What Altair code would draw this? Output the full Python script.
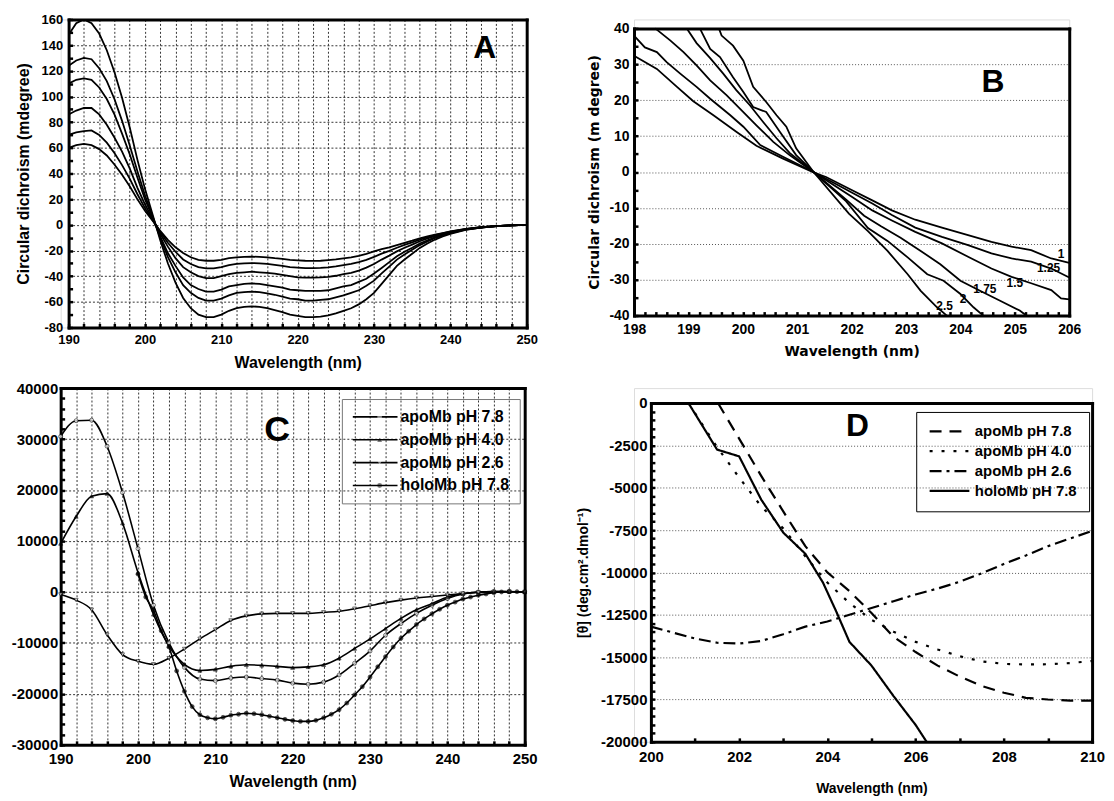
import altair as alt
import pandas as pd

SANS = "Liberation Sans"
WIDE = "DejaVu Sans"

# ---------------- Panel A data ----------------
a_wl = list(range(190, 241)) + [242, 244, 246, 248, 250]
a_cd_1 = [148, 157, 160, 157, 149, 136, 119, 99, 76, 51, 28, 8, -12, -30, -45, -57, -65, -70, -72, -72,
          -70, -67, -65, -64, -63.5, -64, -65, -66.5, -68, -70, -71, -72, -72, -71.5, -70.5, -69, -67, -65,
          -62, -58, -53, -46, -39, -32, -27, -22.5, -18, -14.5, -11.5, -9, -7, -4, -2.2, -1.1, -0.4, 0]
a_cd_2 = [124, 128, 130, 129, 122, 112, 98, 81, 62, 42, 23, 6.5, -10, -25, -37, -47, -53, -57, -59, -59,
          -57.5, -55, -53, -52.5, -52, -52.5, -53.5, -54.5, -56, -57.5, -58, -59, -59, -58.5, -58, -56.5,
          -55, -53, -51, -47.5, -43.5, -37.9, -32.6, -27.1, -23.1, -19.5, -15.8, -12.9, -10.3, -8.2, -6.5,
          -3.8, -2.1, -1.1, -0.4, 0]
a_cd_3 = [110, 113, 114, 113, 107, 98, 86, 71, 55, 37, 20, 6, -9, -22, -32, -41, -47, -50, -52, -52,
          -50.5, -48, -47, -46, -45.7, -46, -47, -48, -49, -50.5, -51, -51.5, -51.5, -51.5, -51, -49.5,
          -48, -47, -44.5, -42, -38, -33.6, -29.1, -24.5, -21, -17.9, -14.6, -12, -9.7, -7.8, -6.2,
          -3.6, -2.1, -1.05, -0.4, 0]
a_cd_4 = [86, 89, 91, 91, 86, 78, 68, 57, 44, 29, 16, 4.5, -7, -17, -26, -33, -37, -40, -41.5, -41.5,
          -40, -38.5, -37.5, -37, -36.5, -37, -37.5, -38, -39, -40, -41, -41.2, -41.2, -41, -40.5, -39.7,
          -38.5, -37.4, -35.7, -33.4, -30.5, -27.1, -24, -20.7, -17.9, -15.4, -12.8, -10.6, -8.8, -7.2,
          -5.7, -3.4, -2, -1, -0.4, 0]
a_cd_5 = [70, 72, 73, 73.5, 70, 64, 56, 46.5, 36, 24, 13, 3.8, -5.6, -14, -21, -27, -30.5, -33, -34, -34,
          -33, -31.5, -30.5, -30, -29.8, -30, -30.5, -31.3, -32, -33, -33.4, -33.8, -33.8, -33.6, -33.1,
          -32.4, -31.5, -30.5, -29, -27.3, -25, -22.5, -20.3, -17.9, -15.7, -13.7, -11.6, -9.7, -8.1,
          -6.7, -5.4, -3.3, -1.9, -1, -0.4, 0]
a_cd_6 = [60, 62, 63, 62, 59, 54, 47, 39, 30, 20, 11, 3.1, -4.7, -11.7, -17.5, -22, -25.3, -27.3, -28, -28,
          -27.3, -26, -25.3, -25, -24.8, -25, -25.3, -26, -26.5, -27.3, -27.7, -28, -28.1, -28, -27.5,
          -27, -26.1, -25.3, -24.2, -22.6, -20.7, -19, -17.5, -15.8, -14, -12.4, -10.6, -9, -7.6, -6.4,
          -5.2, -3.2, -1.9, -1, -0.4, 0]
a_curves = [a_cd_1, a_cd_2, a_cd_3, a_cd_4, a_cd_5, a_cd_6]
a_letter = ["A"]
a_letter_wl = [244.5]
a_letter_cd = [138]

# ---------------- Panel B data ----------------
b_names = ["1", "1.25", "1.5", "1.75", "2", "2.5"]
b_wl_1 = [198.0, 198.42, 198.79, 199.09, 199.46, 199.88, 200.25, 200.73, 201.28, 201.53, 202.01, 202.38,
          202.74, 203.17, 203.66, 204.14, 204.57, 204.94, 205.3, 205.67, 206.0]
b_cd_1 = [32.4, 28.7, 23.7, 19.7, 15.8, 11.2, 7.3, 3.8, 0.0, -1.4, -5.1, -7.9, -10.7, -13.3, -15.5, -17.6,
          -19.5, -20.8, -21.8, -24.1, -25.3]
b_wl_125 = [198.0, 198.2, 198.42, 198.6, 198.85, 199.15, 199.4, 199.77, 200.01, 200.32, 200.73, 201.3,
            202.01, 202.38, 202.74, 203.17, 203.66, 204.14, 204.57, 204.94, 205.3, 205.67, 206.0]
b_cd_125 = [38, 34.7, 33.4, 30.6, 27.4, 23.7, 20.4, 15.8, 12.6, 7.5, 4.3, 0, -5.8, -8.8, -12, -15.5, -18.1,
            -20.4, -22.7, -24.1, -25, -26.9, -29.4]
b_wl_15 = [198.39, 198.67, 198.91, 199.15, 199.4, 199.7, 200.01, 200.25, 200.56, 200.86, 201.3, 202.01,
           202.38, 202.74, 203.17, 203.66, 204.14, 204.57, 204.94, 205.3, 205.67, 205.85, 206.0]
b_cd_15 = [40, 36.6, 33.4, 29.7, 25.5, 21.4, 16.7, 13, 8.4, 4.7, 0, -7, -10.7, -13.5, -16.7, -19.9, -23.6,
           -26.9, -29.2, -31, -32.9, -35.2, -35.5]
b_wl_175 = [198.97, 199.15, 199.4, 199.64, 199.88, 200.13, 200.37, 200.62, 200.86, 201.3, 201.9, 202.23,
            202.54, 202.9, 203.27, 203.63, 204.0, 204.36, 204.72, 205.09, 205.21]
b_cd_175 = [40, 35.9, 31.7, 27.4, 22.8, 18.6, 14, 9.4, 5.3, 0, -7.7, -12.2, -15.1, -18.3, -22, -25.7, -30.3,
            -33.1, -35.8, -38.6, -40]
b_wl_2 = [199.21, 199.4, 199.58, 199.82, 200.01, 200.19, 200.43, 200.68, 200.98, 201.3, 201.9, 202.3,
          202.66, 203.03, 203.39, 203.69, 204.0, 204.24, 204.42]
b_cd_2 = [40, 34.3, 32, 26.4, 22.3, 18.1, 16.7, 11.2, 4.7, 0, -8.2, -15.6, -19.2, -23.8, -28.5, -30.3, -34,
          -37.7, -40]
b_wl_25 = [199.56, 199.61, 199.82, 200.01, 200.19, 200.43, 200.62, 200.8, 200.98, 201.3, 201.95, 202.3,
           202.66, 203.03, 203.27, 203.57, 203.75]
b_cd_25 = [40, 38, 35.2, 31, 23.7, 19.5, 15.8, 12.6, 6.6, 0, -11.6, -16.5, -22, -28.5, -33.1, -37.7, -40]
b_series = [(b_wl_1, b_cd_1), (b_wl_125, b_cd_125), (b_wl_15, b_cd_15), (b_wl_175, b_cd_175),
            (b_wl_2, b_cd_2), (b_wl_25, b_cd_25)]
b_label_wl = [205.85, 205.62, 205.0, 204.45, 204.05, 203.71]
b_label_cd = [-22.8, -26.7, -30.9, -32.7, -35.5, -37.4]
b_letter = ["B"]
b_letter_wl = [204.6]
b_letter_cd = [25]

# ---------------- Panel C data ----------------
c_names = ["apoMb pH 7.8", "apoMb pH 4.0", "apoMb pH 2.6", "holoMb pH 7.8"]
c_marker_keys = ["marker 7.8", "marker 4.0", "marker 2.6", "marker holo"]
c_wl = list(range(190, 251, 2))
c_apo78 = [30500, 33600, 33700, 28600, 19500, 8500, -2600, -10000, -14800, -17100, -17400, -16900, -16700,
           -17000, -17300, -17900, -18100, -17700, -16300, -14000, -11600, -8500, -6200, -4200, -2600, -1300,
           -400, 0, 100, 100, 0]
c_apo40 = [9500, 14800, 18800, 19300, 13500, 3800, -4400, -10600, -14200, -15400, -15200, -14600, -14300,
           -14400, -14600, -14850, -14700, -14300, -13000, -11100, -9200, -7200, -5200, -3500, -2300, -1000,
           -350, 0, 100, 50, 0]
c_apo26 = [-500, -1600, -3500, -8400, -12300, -13600, -14200, -13000, -11200, -9200, -7400, -5600, -4700,
           -4300, -4200, -4200, -4200, -4000, -3800, -3300, -2700, -2100, -1600, -1200, -900, -600, -300,
           -100, 0, 50, 0]
c_holo_wl = list(range(200, 251))
c_holo = [3500, -1000, -3600, -7600, -10800, -15500, -19500, -22500, -24100, -24700, -24900, -24600, -24200,
          -24000, -23800, -23900, -24100, -24400, -24700, -25000, -25250, -25400, -25400, -25200, -24700,
          -24000, -23100, -21800, -20200, -18600, -16700, -14700, -12700, -10800, -9100, -7700, -6400, -5300,
          -4300, -3400, -2600, -2000, -1400, -1000, -650, -400, -150, 0, 50, 50, 0]
c_letter = ["C"]
c_letter_wl = [218.0]
c_letter_cd = [31800]

# ---------------- Panel D data ----------------
d_wl_78 = [201.52, 202.0, 202.5, 203.0, 203.5, 204.0, 204.5, 205.0, 205.5, 206.0, 206.5, 207.0, 207.5,
           208.0, 208.5, 209.0, 209.5, 210.0]
d_cd_78 = [0, -2100, -4300, -6400, -8450, -10000, -11100, -12400, -13800, -14700, -15500, -16150, -16700,
           -17100, -17400, -17500, -17570, -17570]
d_wl_40 = [200.85, 201.0, 201.5, 202.0, 202.5, 203.0, 203.5, 204.0, 204.5, 205.0, 205.5, 206.0, 206.5,
           207.0, 207.5, 208.0, 208.5, 209.0, 209.5, 210.0]
d_cd_40 = [0, -600, -2600, -4400, -6100, -7400, -9050, -10600, -11800, -12800, -13500, -14100, -14550,
           -14950, -15250, -15400, -15430, -15420, -15350, -15230]
d_wl_26 = [200.0, 200.5, 201.0, 201.5, 202.0, 202.5, 203.0, 203.5, 204.0, 204.5, 205.0, 205.5, 206.0,
           206.5, 207.0, 207.5, 208.0, 208.5, 209.0, 209.5, 210.0]
d_cd_26 = [-13200, -13550, -13900, -14150, -14200, -14050, -13650, -13200, -12900, -12500, -12100, -11700,
           -11300, -10950, -10550, -10050, -9500, -9000, -8450, -8000, -7550]
d_wl_holo = [200.85, 201.5, 202.0, 202.5, 203.0, 203.5, 203.9, 204.2, 204.5, 205.0, 205.5, 206.0, 206.25]
d_cd_holo = [0, -2750, -3150, -5700, -7650, -8900, -10600, -12300, -14100, -15500, -17300, -19000, -20000]
d_letter = ["D"]
d_letter_wl = [204.68]
d_letter_cd = [-1390]


# ---------------- helpers ----------------
def ax_main(orient, values, label_expr, grid, lsize, lpad, title, tfont, tsize, tpad,
            gdash=(2, 2), gcolor="#333333", offset=0):
    kw = dict(orient=orient, values=values, labelExpr=label_expr, grid=grid, domain=True,
              domainColor="black", domainWidth=3, domainCap="square", ticks=False, offset=offset,
              labelFont=SANS, labelFontSize=lsize, labelFontWeight="bold", labelColor="black",
              labelPadding=lpad, labelOverlap=False, labelFlush=False, labelBound=False,
              title=title, titleFont=tfont, titleFontSize=tsize, titleFontWeight="bold",
              titleColor="black", titlePadding=tpad)
    if grid:
        kw.update(gridColor=gcolor, gridDash=list(gdash), gridWidth=1, gridOpacity=1)
    return alt.Axis(**kw)


def frame_layer(df, xs, ys, top_off):
    return alt.Chart(df).mark_line(opacity=0).encode(
        x=alt.X("wl:Q", scale=xs, axis=alt.Axis(orient="top", offset=-top_off, labels=False, ticks=False,
                                                 grid=False, domainColor="black", domainWidth=3,
                                                 domainCap="square", title="")),
        y=alt.Y("cd:Q", scale=ys, axis=alt.Axis(orient="right", labels=False, ticks=False, grid=False,
                                                 domainColor="black", domainWidth=3, domainCap="square",
                                                 title="")),
    )


def tick_layer(df, xs, ys, left_x, H, xvals, yvals, size=4):
    # top-oriented axis moved to the bottom edge, right-oriented axis moved to the left edge:
    # their ticks point into the plot
    return alt.Chart(df).mark_line(opacity=0).encode(
        x=alt.X("wl:Q", scale=xs, axis=alt.Axis(orient="top", offset=-H, values=xvals, labels=False,
                                                 ticks=True, tickSize=size, tickWidth=2.5, tickColor="black",
                                                 grid=False, domain=False, title="")),
        y=alt.Y("cd:Q", scale=ys, axis=alt.Axis(orient="right", offset=-left_x, values=yvals, labels=False,
                                                 ticks=True, tickSize=size, tickWidth=2.5, tickColor="black",
                                                 grid=False, domain=False, title="")),
    )


def text_layer(df, xs, ys, size, font=SANS):
    return alt.Chart(df).mark_text(font=font, fontSize=size, fontWeight="bold", color="black").encode(
        x=alt.X("wl:Q", scale=xs, axis=None),
        y=alt.Y("cd:Q", scale=ys, axis=None),
        text="t:N",
    )


NUM = "'' + datum.value"
TENS = "datum.value % 10 == 0 ? '' + datum.value : ''"

# ---------------- Panel A ----------------
A_PW, A_H, A_LEFT = 461, 310, 8
A_W = A_PW + A_LEFT
rows = []
for i, ys_ in enumerate(a_curves):
    for w, v in zip(a_wl, ys_):
        rows.append({"wl": w, "cd": v, "curve": f"c{i}"})
dfA = pd.DataFrame(rows)
xA = alt.Scale(domain=[190, 250], nice=False, zero=False, range=[A_LEFT, A_W])
yA = alt.Scale(domain=[-80, 160], nice=False, zero=False)
linesA = alt.Chart(dfA).mark_line(color="black", strokeWidth=1.8, clip=True).encode(
    x=alt.X("wl:Q", scale=xA, axis=ax_main("bottom", list(range(190, 251, 2)), TENS, True, 13, 6,
                                           "Wavelength (nm)", SANS, 16, 8)),
    y=alt.Y("cd:Q", scale=yA, axis=ax_main("left", list(range(-80, 161, 20)), NUM, True, 13, 6,
                                           "Circular dichroism (mdegree)", SANS, 16, 10, offset=-A_LEFT)),
    detail="curve:N",
)
A = alt.layer(
    linesA,
    frame_layer(dfA, xA, yA, 0),
    tick_layer(dfA, xA, yA, A_W - A_LEFT, A_H, list(range(190, 251, 2)), list(range(-80, 161, 10))),
    text_layer(pd.DataFrame({"wl": a_letter_wl, "cd": a_letter_cd, "t": a_letter}), xA, yA, 32),
).resolve_axis(x="independent", y="independent").properties(width=A_W, height=A_H)

# ---------------- Panel B ----------------
B_W, B_H, B_TOP = 438, 298, 9
rows = []
for name, (ws, vs) in zip(b_names, b_series):
    for w, v in zip(ws, vs):
        rows.append({"wl": w, "cd": v, "curve": name})
dfB = pd.DataFrame(rows)
xB = alt.Scale(domain=[198, 206], nice=False, zero=False)
yB = alt.Scale(domain=[-40, 40], nice=False, zero=False, range=[B_H, B_TOP])
linesB = alt.Chart(dfB).mark_line(color="black", strokeWidth=1.8).encode(
    x=alt.X("wl:Q", scale=xB, axis=ax_main("bottom", list(range(198, 207)), NUM, False, 14, 7,
                                           "Wavelength (nm)", WIDE, 14, 8)),
    y=alt.Y("cd:Q", scale=yB, axis=ax_main("left", list(range(-40, 41, 10)), NUM, True, 14, 5,
                                           "Circular dichroism (m degree)", WIDE, 14, 8,
                                           gdash=(1, 2), gcolor="#555555")),
    detail="curve:N",
)
B = alt.layer(
    linesB,
    frame_layer(dfB, xB, yB, B_TOP),
    tick_layer(dfB, xB, yB, B_W, B_H, [round(198 + 0.2 * i, 1) for i in range(41)],
               list(range(-40, 41, 5))),
    text_layer(pd.DataFrame({"wl": b_label_wl, "cd": b_label_cd, "t": b_names}), xB, yB, 12),
    text_layer(pd.DataFrame({"wl": b_letter_wl, "cd": b_letter_cd, "t": b_letter}), xB, yB, 32),
).resolve_axis(x="independent", y="independent").properties(width=B_W, height=B_H)

# ---------------- Panel C ----------------
C_W, C_H = 467, 359
rows = []
for name, key, ws, vs in [(c_names[0], c_marker_keys[0], c_wl, c_apo78),
                          (c_names[1], c_marker_keys[1], c_wl, c_apo40),
                          (c_names[2], c_marker_keys[2], c_wl, c_apo26),
                          (c_names[3], c_marker_keys[3], c_holo_wl, c_holo)]:
    for w, v in zip(ws, vs):
        rows.append({"wl": w, "cd": v, "series": name, "marker": key})
dfC = pd.DataFrame(rows)
xC = alt.Scale(domain=[190, 250], nice=False, zero=False)
yC = alt.Scale(domain=[-30000, 40000], nice=False, zero=False)
C_LEG_X, C_LEG_Y = 283, 11
leg_common = dict(orient="none", legendY=C_LEG_Y, title=None, labelFont=SANS, labelFontSize=16,
                  labelFontWeight="bold", labelOffset=2, rowPadding=7, padding=10, labelLimit=300,
                  clipHeight=16)
linesC = alt.Chart(dfC).mark_line(strokeWidth=1.6, interpolate="monotone").encode(
    x=alt.X("wl:Q", scale=xC, axis=ax_main("bottom", list(range(190, 251, 2)), TENS, True, 15, 7,
                                           "Wavelength (nm)", SANS, 16, 7)),
    y=alt.Y("cd:Q", scale=yC, axis=ax_main("left", list(range(-30000, 40001, 10000)), NUM, True, 15, 3,
                                           "", SANS, 16, 0)),
    color=alt.Color("series:N", scale=alt.Scale(domain=c_names, range=["black"] * 4),
                    legend=alt.Legend(legendX=C_LEG_X, symbolType="stroke", symbolSize=2025,
                                      symbolStrokeWidth=1.6, labelColor="black",
                                      strokeColor="#777777", **leg_common)),
)
pt_leg = alt.Legend(legendX=C_LEG_X + 20, symbolSize=24, labelExpr="''", symbolStrokeColor="black",
                    symbolStrokeWidth=0.9, **leg_common)
pointsC = alt.Chart(dfC).mark_point(filled=True, stroke="black", strokeWidth=0.8, size=16).encode(
    x=alt.X("wl:Q", scale=xC, axis=None),
    y=alt.Y("cd:Q", scale=yC, axis=None),
    shape=alt.Shape("marker:N", scale=alt.Scale(domain=c_marker_keys,
                                                range=["circle", "triangle-up", "triangle-down", "circle"]),
                    legend=pt_leg),
    fill=alt.Fill("marker:N", scale=alt.Scale(domain=c_marker_keys,
                                              range=["white", "black", "white", "black"]),
                  legend=pt_leg),
)
C = alt.layer(
    linesC,
    pointsC,
    frame_layer(dfC, xC, yC, 0),
    tick_layer(dfC, xC, yC, C_W, C_H, list(range(190, 251, 2)), list(range(-30000, 40001, 2000))),
    text_layer(pd.DataFrame({"wl": c_letter_wl, "cd": c_letter_cd, "t": c_letter}), xC, yC, 36),
).resolve_axis(x="independent", y="independent").properties(width=C_W, height=C_H)

# ---------------- Panel D ----------------
D_PW, D_H, D_TOP, D_LEFT = 444, 356, 15, 17
D_W = D_PW + D_LEFT
rows = []
for name, ws, vs in [(c_names[0], d_wl_78, d_cd_78), (c_names[1], d_wl_40, d_cd_40),
                     (c_names[2], d_wl_26, d_cd_26), (c_names[3], d_wl_holo, d_cd_holo)]:
    for w, v in zip(ws, vs):
        rows.append({"wl": w, "cd": v, "dseries": name})
dfD = pd.DataFrame(rows)
xD = alt.Scale(domain=[200, 210], nice=False, zero=False, range=[D_LEFT, D_W])
yD = alt.Scale(domain=[-20000, 0], nice=False, zero=False, range=[D_H, D_TOP])
linesD = alt.Chart(dfD).mark_line(color="black", strokeWidth=2.2).encode(
    x=alt.X("wl:Q", scale=xD, axis=ax_main("bottom", list(range(200, 211, 2)), NUM, False, 15, 8,
                                           "Wavelength (nm)", SANS, 14, 17)),
    y=alt.Y("cd:Q", scale=yD, axis=ax_main("left", list(range(-20000, 1, 2500)), NUM, True, 15, 4,
                                           "[θ] (deg.cm².dmol⁻¹)", SANS, 14, 10,
                                           gdash=(1, 2), gcolor="#555555", offset=-D_LEFT)),
    strokeDash=alt.StrokeDash("dseries:N", scale=alt.Scale(domain=c_names,
                                                           range=[[12, 8], [3, 9], [12, 5, 3, 5], [1, 0]]),
                              legend=alt.Legend(orient="none", legendX=284, legendY=24, title=None,
                                                symbolType="stroke", symbolSize=1600, symbolStrokeWidth=2.2,
                                                symbolStrokeColor="black", clipHeight=15,
                                                labelFont=SANS, labelFontSize=15, labelFontWeight="bold",
                                                labelColor="black", labelOffset=4, rowPadding=4, padding=12,
                                                strokeColor="black", labelLimit=300)),
)
D = alt.layer(
    linesD,
    frame_layer(dfD, xD, yD, D_TOP),
    tick_layer(dfD, xD, yD, D_W - D_LEFT, D_H, list(range(200, 211)), list(range(-20000, 1, 500))),
    text_layer(pd.DataFrame({"wl": d_letter_wl, "cd": d_letter_cd, "t": d_letter}), xD, yD, 32),
).resolve_axis(x="independent", y="independent").properties(width=D_W, height=D_H)

chart = alt.concat(
    A, B, C, D, columns=2, spacing={"row": 61, "column": 108}, bounds="flush"
).resolve_scale(
    color="independent", shape="independent", fill="independent", strokeDash="independent"
).resolve_legend(
    color="independent", shape="independent", fill="independent", strokeDash="independent"
).properties(
    padding={"left": 2, "top": 2, "right": 0, "bottom": 0}
).configure_view(stroke="transparent").configure(font=SANS)

chart.save("out.html", embed_options={"renderer": "svg", "actions": False})
